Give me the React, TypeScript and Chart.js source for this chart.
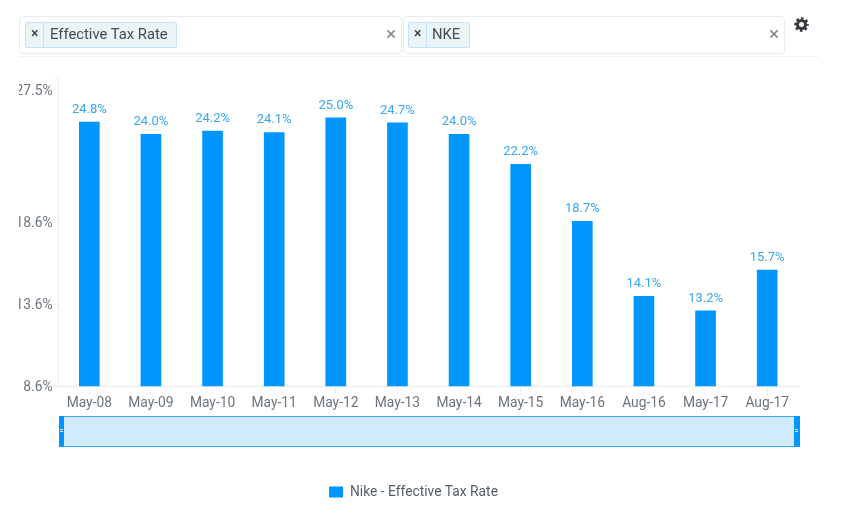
import React, { useEffect, useRef } from "react";
import { Chart, registerables } from "chart.js";

Chart.register(...registerables);

const categories = ["May-08", "May-09", "May-10", "May-11", "May-12", "May-13", "May-14", "May-15", "May-16", "Aug-16", "May-17", "Aug-17"];
const effectiveTaxRate = [24.75, 24.0, 24.2, 24.1, 25.0, 24.7, 24.0, 22.16, 18.68, 14.1, 13.2, 15.7];
const yTicks = [8.6, 13.6, 18.6, 27.5];
const seriesName = "Nike - Effective Tax Rate";
const FONT = "Roboto";
const BLUE = "#0096ff";

const labelsPlugin = {
  id: "labelsPlugin",
  afterLayout(chart: any) {
    // the legend is centred a little right of the middle of its box
    chart.legend.left += 5;
    chart.legend.right += 5;
  },
  afterDatasetsDraw(chart: any) {
    const { ctx } = chart;
    const meta = chart.getDatasetMeta(0);
    ctx.save();
    ctx.font = `13px ${FONT}`;
    ctx.fillStyle = "#38a5f6";
    ctx.textAlign = "center";
    ctx.textBaseline = "middle";
    meta.data.forEach((bar: any, i: number) => {
      ctx.fillText(effectiveTaxRate[i].toFixed(1) + "%", bar.x, bar.y - 12.5);
    });
    ctx.restore();
    // the top tick label sits below its tick and is cut at the left, as in the reference
    const yScale = chart.scales.y;
    const top = yTicks[yTicks.length - 1];
    ctx.save();
    ctx.beginPath();
    ctx.rect(yScale.left, 0, 60, 518);
    ctx.clip();
    ctx.font = `13.8px ${FONT}`;
    ctx.fillStyle = "#6c757d";
    ctx.textAlign = "right";
    ctx.textBaseline = "middle";
    ctx.fillText(top.toFixed(1) + "%", yScale.right - 6, yScale.getPixelForValue(top) + 14.5);
    ctx.restore();
  },
};

const tagStyle = (left: number, width: number): React.CSSProperties => ({
  position: "absolute", left, top: 22, width, height: 26, boxSizing: "border-box",
  background: "#ebf5f8", border: "1px solid #c2e0ff", borderRadius: 2,
});
const abs = (left: number, top: number, width: number, height: number, extra: React.CSSProperties = {}): React.CSSProperties => ({
  position: "absolute", left, top, width, height, boxSizing: "border-box", ...extra,
});
const boxStyle = (left: number, width: number) => abs(left, 16, width, 38, { border: "1px solid #e9ecef", borderRadius: 4, background: "#fff" });
const txt = (left: number, top: number, size: number, color: string, s: string, extra: React.CSSProperties = {}) => (
  <div style={{ position: "absolute", left, top, fontFamily: FONT, fontSize: size, lineHeight: "20px", color, whiteSpace: "nowrap", ...extra }}>{s}</div>
);

function Grip({ left }: { left: number }) {
  return (
    <div style={abs(left, 415.5, 5.5, 31, { background: BLUE })}>
      <div style={abs(1, 13.5, 3, 1, { background: "#d0eaff" })} />
      <div style={abs(1, 15.5, 3, 1, { background: "#d0eaff" })} />
    </div>
  );
}

export default function App() {
  const ref = useRef<HTMLCanvasElement>(null);
  useEffect(() => {
    const chart = new Chart(ref.current as HTMLCanvasElement, {
      type: "bar",
      data: {
        labels: categories,
        datasets: [{ label: seriesName, data: effectiveTaxRate, backgroundColor: BLUE, borderWidth: 0, barThickness: 20 }],
      },
      plugins: [labelsPlugin],
      options: {
        animation: false,
        responsive: false,
        layout: { padding: { left: 19, right: 43, top: 77, bottom: 9 } },
        plugins: {
          tooltip: { enabled: false },
          legend: {
            position: "bottom",
            labels: { boxWidth: 14, boxHeight: 11, color: "#555e66", font: { family: FONT, size: 13.8 }, padding: 10 },
          },
        },
        scales: {
          x: {
            afterFit: (s: any) => { s.height = 89; },
            grid: { offset: false, drawOnChartArea: false, drawTicks: true, tickLength: 9, tickColor: "#edf0f2" },
            border: { color: "#e9ecef" },
            ticks: { color: "#6c757d", font: { family: FONT, size: 13.8 }, padding: 0, maxRotation: 0, autoSkip: false },
          },
          y: {
            min: yTicks[0],
            max: yTicks[yTicks.length - 1],
            afterFit: (s: any) => { s.width = 39.5; },
            afterBuildTicks: (s: any) => { s.ticks = yTicks.map((value) => ({ value })); },
            grid: { drawOnChartArea: false, drawTicks: true, tickLength: 5, tickColor: "#edf0f2" },
            border: { color: "#e9ecef" },
            ticks: {
              color: "#6c757d",
              font: { family: FONT, size: 13.8, lineHeight: "2px" },
              padding: 1,
              callback: (v: any) => (Number(v) === yTicks[yTicks.length - 1] ? "" : ["", Number(v).toFixed(1) + "%"]),
            },
          },
        },
      },
    } as any);
    return () => chart.destroy();
  }, []);

  return (
    <div style={{ position: "absolute", left: 0, top: 0, width: 841, height: 518, overflow: "hidden", background: "#fff" }}>
      <canvas ref={ref} width={841} height={518} style={{ position: "absolute", left: 0, top: 0, display: "block" }} />
      <div style={boxStyle(19, 383)} />
      <div style={boxStyle(403, 382)} />
      <div style={abs(19, 56, 800, 1, { background: "#eef5fa" })} />
      <div style={tagStyle(25, 152)} />
      <div style={abs(43, 22, 1, 26, { background: "#c2e0ff" })} />
      {txt(31, 23, 14, "#343a40", "×", { fontWeight: 500 })}
      {txt(50, 24, 14.8, "#454b50", "Effective Tax Rate")}
      {txt(386, 24, 19, "#8a8a8a", "×")}
      <div style={tagStyle(408, 62)} />
      <div style={abs(426, 22, 1, 26, { background: "#c2e0ff" })} />
      {txt(414, 23, 14, "#343a40", "×", { fontWeight: 500 })}
      {txt(432, 24, 14.8, "#454b50", "NKE")}
      {txt(769, 24, 19, "#8a8a8a", "×")}
      <svg style={abs(794, 17, 15, 15)} viewBox="0 0 15 15">
        <circle cx="7.5" cy="7.5" r="4" fill="none" stroke="#343a40" strokeWidth="3" />
        <circle cx="7.5" cy="7.5" r="6" fill="none" stroke="#343a40" strokeWidth="2.6" strokeDasharray="2.6 2.11" strokeDashoffset="1.3" />
      </svg>
      <div style={abs(58.7, 415.5, 740.8, 31, { background: "#d0eaff", border: "1.5px solid #3aa8ff" })} />
      <Grip left={58.7} />
      <Grip left={794} />
    </div>
  );
}
